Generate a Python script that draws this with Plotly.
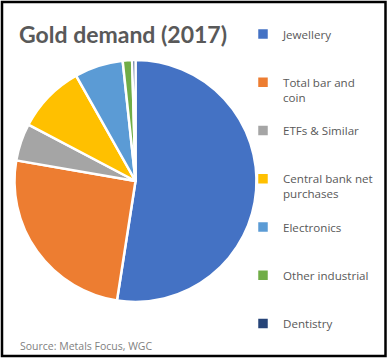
import plotly.graph_objects as go

labels = ["Jewellery", "Total bar and<br>coin", "ETFs & Similar", "Central bank net<br>purchases",
          "Electronics", "Other industrial", "Dentistry"]
values = [2135.5, 1029.2, 202.8, 371.4, 263.6, 50.9, 18.1]
colors = ["#4472C4", "#ED7D31", "#A5A5A5", "#FFC000", "#5B9BD5", "#70AD47", "#264478"]
# pad legend entries to equal heights (3 lines each)
lines_per_item = 3
legend_labels = []
for i, lab in enumerate(labels):
    n = lab.count("<br>") + 1
    pad = lines_per_item - n if i < len(labels) - 1 else 0
    legend_labels.append(lab + "<br> " * pad)

W, H = 389, 360
cx, cy, r = 135.5, 181, 121

fig = go.Figure(go.Pie(
    labels=legend_labels,
    values=values,
    marker=dict(colors=colors, line=dict(color="white", width=2.5)),
    sort=False,
    direction="clockwise",
    rotation=0,
    textinfo="none",
    hoverinfo="label+percent",
    domain=dict(x=[(cx - r) / W, (cx + r) / W], y=[(H - cy - r) / H, (H - cy + r) / H]),
))

fig.update_layout(
    width=W, height=H,
    margin=dict(l=0, r=0, t=0, b=0),
    paper_bgcolor="white",
    plot_bgcolor="white",
    font=dict(family="Open Sans", color="#595959"),
    showlegend=True,
    legend=dict(
        x=243 / W, xanchor="left", y=1 - 20 / H, yanchor="top",
        font=dict(family="Open Sans", size=11.6, color="#595959"),
        valign="top", tracegroupgap=0,
        bgcolor="rgba(0,0,0,0)",
    ),
    annotations=[
        dict(text="<b>Gold demand (2017)</b>", x=17 / W, y=1 - 18 / H, xref="paper", yref="paper",
             xanchor="left", yanchor="top", showarrow=False,
             font=dict(family="Lato", size=23, color="#595959")),
        dict(text="Source: Metals Focus, WGC", x=18 / W, y=1 - 337 / H, xref="paper", yref="paper",
             xanchor="left", yanchor="top", showarrow=False,
             font=dict(family="Open Sans", size=10.5, color="#7F7F7F")),
    ],
    shapes=[
        dict(type="rect", xref="paper", yref="paper", x0=2 / W, x1=385.5 / W, y0=1 - 356 / H, y1=1 - 2 / H,
             line=dict(color="black", width=2.5), fillcolor="rgba(0,0,0,0)", layer="above"),
    ],
)

fig.write_html("out.html", config={"displayModeBar": False},
               post_script="document.body.style.margin='0';document.body.style.overflow='hidden';")
